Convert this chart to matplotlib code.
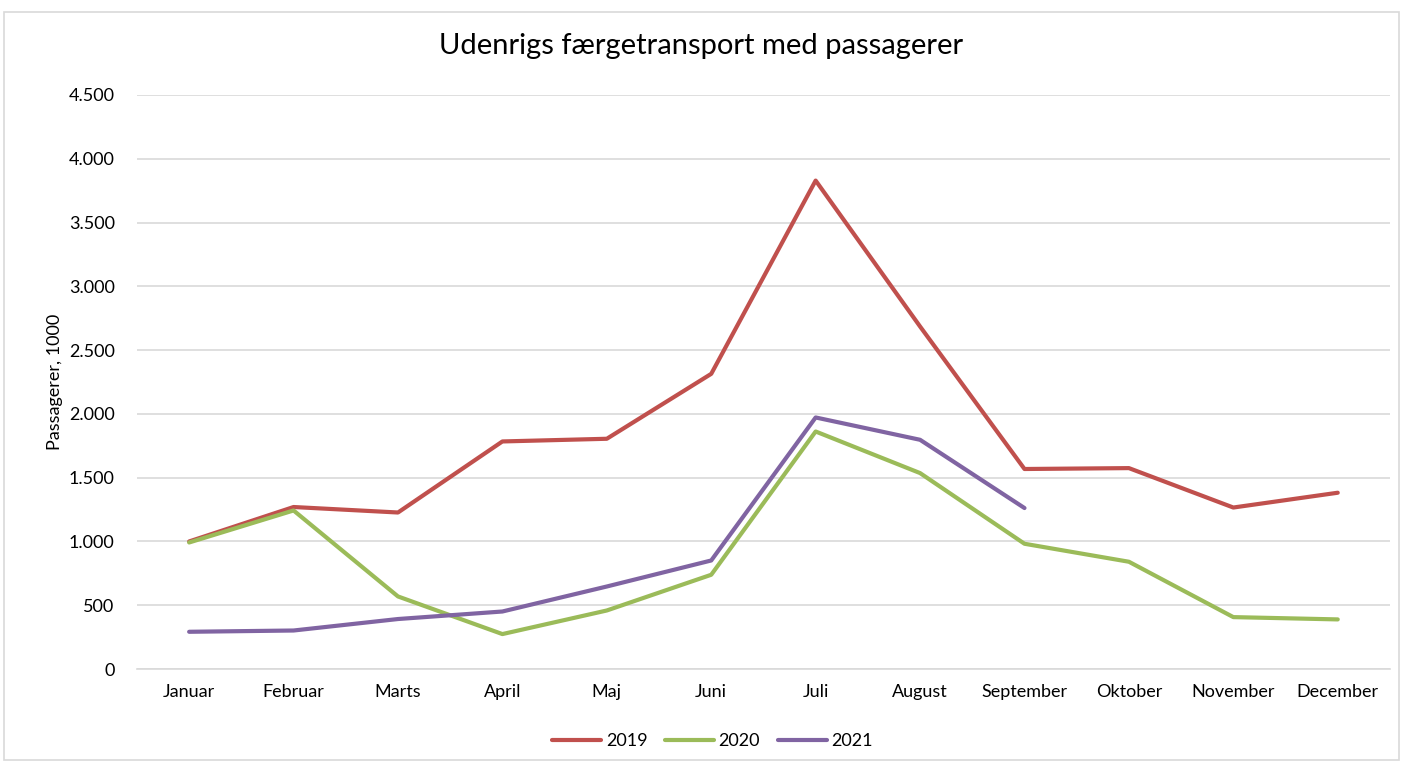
import matplotlib
matplotlib.use("Agg")
import matplotlib.pyplot as plt
from matplotlib.ticker import FuncFormatter, MultipleLocator
from matplotlib.patches import Rectangle

plt.rcParams['font.family'] = ['Lato', 'DejaVu Sans']

months = ["Januar", "Februar", "Marts", "April", "Maj", "Juni", "Juli",
          "August", "September", "Oktober", "November", "December"]
y2019 = [1000, 1270, 1227, 1784, 1805, 2314, 3829, 2685, 1568, 1575, 1266, 1382]
y2020 = [992, 1243, 569, 274, 459, 739, 1862, 1536, 982, 841, 407, 389]
y2021 = [292, 302, 392, 451, 647, 851, 1972, 1797, 1262]

colors = {"2019": "#C0504D", "2020": "#9BBB59", "2021": "#8064A2"}

fig = plt.figure(figsize=(14.03, 7.64), dpi=100)
fig.patches.append(Rectangle((0.003, 0.005), 0.994, 0.979, transform=fig.transFigure,
                             fill=False, edgecolor="#D9D9D9", linewidth=1.2))
ax = fig.add_axes([0.0976, 0.1243, 0.8931, 0.7514])

x = list(range(len(months)))
lw = 3.0
ax.plot(x, y2019, color=colors["2019"], lw=lw, solid_capstyle="round", solid_joinstyle="round", label="2019", zorder=3)
ax.plot(x, y2020, color=colors["2020"], lw=lw, solid_capstyle="round", solid_joinstyle="round", label="2020", zorder=3)
ax.plot(x[:len(y2021)], y2021, color=colors["2021"], lw=lw, solid_capstyle="round", solid_joinstyle="round", label="2021", zorder=3)

ax.set_xlim(-0.5, len(months) - 0.5)
ax.set_ylim(0, 4500)
ax.yaxis.set_major_locator(MultipleLocator(500))
ax.yaxis.set_major_formatter(FuncFormatter(lambda v, p: f"{int(v):,}".replace(",", ".")))
ax.set_xticks(x)
ax.set_xticklabels(months)
ax.grid(axis="y", color="#D9D9D9", lw=1.2, zorder=0)
ax.set_axisbelow(True)
for s in ["left", "right", "top"]:
    ax.spines[s].set_visible(False)
ax.spines["bottom"].set_color("#D9D9D9")
ax.spines["bottom"].set_linewidth(1.2)
ax.tick_params(axis="both", length=0, labelsize=13, colors="#000000")
ax.tick_params(axis="x", pad=11)
ax.tick_params(axis="y", pad=16)
ax.set_ylabel("Passagerer, 1000", fontsize=13, labelpad=4)

fig.text(0.5, 0.94, "Udenrigs færgetransport med passagerer", ha="center", va="center", fontsize=21)

fig.legend(loc="center", bbox_to_anchor=(0.508, 0.03), ncol=3, frameon=False,
           fontsize=13, handlelength=2.7, columnspacing=1.0, handletextpad=0.25)

fig.savefig("out.png", dpi=100, facecolor="white")
